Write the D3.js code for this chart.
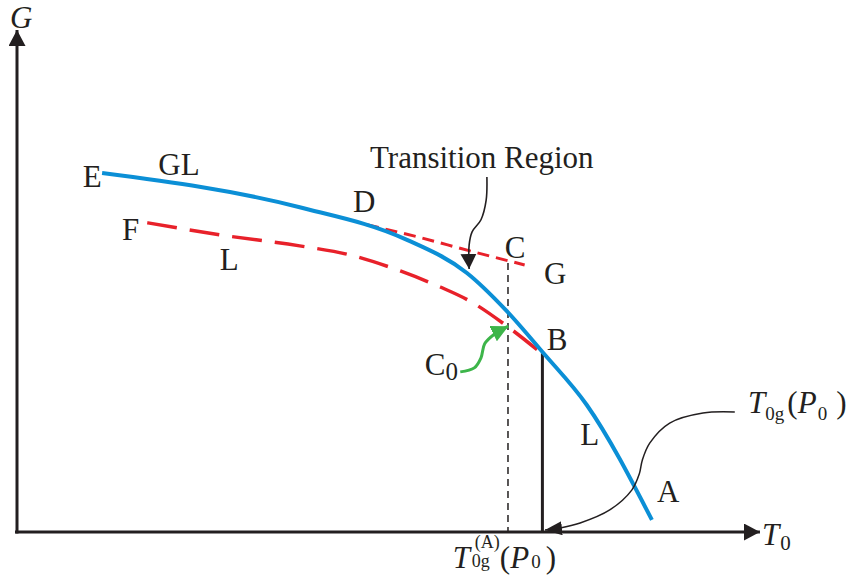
<!DOCTYPE html>
<html>
<head>
<meta charset="utf-8">
<script src="https://cdn.jsdelivr.net/npm/d3@7"></script>
<style>
  body { margin: 0; background: #fff; }
  text { font-family: "Liberation Serif", "Times New Roman", serif; fill: #231f20; }
</style>
</head>
<body>
<div id="chart"></div>
<script>
var width = 849,
    height = 588;

// schematic units: T0 and G both run 0..100 along the axes
var axisEnd = [100.4, 100];

// blue curve E - D - B - A (glass / liquid)
var glCurve = [[11.5, 71.5], [38.2, 64.7], [52.7, 58.2], [60.8, 51.6],
  [66.0, 44.3], [71.1, 35.7], [77.0, 25.3], [85.8, 2.4]];

// red long dashes F - C0 - B (liquid)
var lCurve = [[17.6, 61.6], [27.4, 59.2], [38.2, 57.0], [45.0, 55.2], [51.8, 52.0],
  [57.2, 48.8], [61.2, 46.0], [66.4, 40.8], [70.8, 35.7]];

// red short dashes D - C - G (glass)
var gCurve = [[47.3, 61.2], [54.1, 58.8], [61.2, 56.0], [68.6, 53.2]];

var cDrop = [[66.35, 53.6], [66.35, 0]];
var bDrop = [[71.0, 35.6], [71.0, 0]];

var transArrow = [[63.5, 70.7], [63.4, 66.1], [62.7, 62.2], [61.5, 59.8], [61.1, 57.2], [61.1, 52.4]];
var c0Arrow = [[59.9, 31.9], [61.8, 32.7], [62.7, 34.7], [63.2, 37.5], [64.5, 39.4], [66.4, 41.0]];
var t0gArrow = [[97.0, 23.9], [92.7, 23.7], [88.2, 21.7], [85.5, 17.7], [84.5, 14.3], [84.1, 11.6],
  [83.1, 8.4], [80.1, 4.4], [76.1, 1.8], [73.4, 0.8], [71.35, 0.4]];

var labelText = ["E", "GL", "F", "L", "D", "Transition Region", "C", "G", "B", "L", "A"];
var labelT = [8.9, 19.1, 14.2, 27.4, 45.4, 47.7, 65.9, 71.2, 71.6, 76.1, 86.5];
var labelG = [68.7, 71.1, 58.2, 52.2, 63.7, 72.5, 54.6, 49.4, 36.3, 17.3, 6.0];

var x = d3.scaleLinear().domain([0, 100]).range([17, 757]);
var y = d3.scaleLinear().domain([0, 100]).range([532, 30]);

var svg = d3.select("#chart").append("svg")
    .attr("width", width)
    .attr("height", height);

var defs = svg.append("defs");

function marker(id, len, half, color) {
  defs.append("marker")
      .attr("id", id)
      .attr("markerUnits", "userSpaceOnUse")
      .attr("viewBox", "0 0 " + len + " " + (half * 2))
      .attr("refX", len)
      .attr("refY", half)
      .attr("markerWidth", len)
      .attr("markerHeight", half * 2)
      .attr("orient", "auto")
    .append("path")
      .attr("d", "M0,0L" + len + "," + half + "L0," + (half * 2) + "Z")
      .attr("fill", color);
}
marker("axisHead", 16, 8.5, "#231f20");
marker("transHead", 15, 8, "#231f20");
marker("greenHead", 17, 8.5, "#3db54a");
marker("thinHead", 17, 7, "#231f20");

var smooth = d3.line()
    .x(function(d) { return x(d[0]); })
    .y(function(d) { return y(d[1]); })
    .curve(d3.curveCatmullRom.alpha(0.5));

var mono = d3.line()
    .x(function(d) { return x(d[0]); })
    .y(function(d) { return y(d[1]); })
    .curve(d3.curveMonotoneX);

var straight = d3.line()
    .x(function(d) { return x(d[0]); })
    .y(function(d) { return y(d[1]); });

// axes
svg.append("line")
    .attr("x1", x(0) - 2).attr("y1", y(0))
    .attr("x2", x(axisEnd[0])).attr("y2", y(0))
    .attr("stroke", "#231f20").attr("stroke-width", 3)
    .attr("marker-end", "url(#axisHead)");
svg.append("line")
    .attr("x1", x(0)).attr("y1", y(0) + 1.5)
    .attr("x2", x(0)).attr("y2", y(axisEnd[1]))
    .attr("stroke", "#231f20").attr("stroke-width", 3)
    .attr("marker-end", "url(#axisHead)");

// verticals
svg.append("path")
    .attr("d", straight(cDrop))
    .attr("fill", "none").attr("stroke", "#231f20").attr("stroke-width", 1.5)
    .attr("stroke-dasharray", "7,5");
svg.append("path")
    .attr("d", straight(bDrop))
    .attr("fill", "none").attr("stroke", "#231f20").attr("stroke-width", 3);

// curves
svg.append("path")
    .attr("d", mono(gCurve))
    .attr("fill", "none").attr("stroke", "#e8212a").attr("stroke-width", 3)
    .attr("stroke-dasharray", "12,7");
svg.append("path")
    .attr("d", mono(lCurve))
    .attr("fill", "none").attr("stroke", "#e8212a").attr("stroke-width", 3.5)
    .attr("stroke-dasharray", "30,13");
svg.append("path")
    .attr("d", mono(glCurve))
    .attr("fill", "none").attr("stroke", "#0b8fd6").attr("stroke-width", 4);

// annotation arrows
svg.append("path")
    .attr("d", smooth(transArrow))
    .attr("fill", "none").attr("stroke", "#231f20").attr("stroke-width", 1.6)
    .attr("marker-end", "url(#transHead)");
svg.append("path")
    .attr("d", smooth(c0Arrow))
    .attr("fill", "none").attr("stroke", "#3db54a").attr("stroke-width", 3)
    .attr("marker-end", "url(#greenHead)");
svg.append("path")
    .attr("d", smooth(t0gArrow))
    .attr("fill", "none").attr("stroke", "#231f20").attr("stroke-width", 1.5)
    .attr("marker-end", "url(#thinHead)");

// point and curve labels
svg.selectAll(".lbl")
    .data(labelText)
  .enter().append("text")
    .attr("class", "lbl")
    .attr("x", function(d, i) { return x(labelT[i]); })
    .attr("y", function(d, i) { return y(labelG[i]); })
    .style("font-size", "31px")
    .text(function(d) { return d; });

// C0
var c0 = svg.append("text")
    .attr("x", x(55.1)).attr("y", y(31.3))
    .style("font-size", "31px");
c0.append("tspan").text("C");
c0.append("tspan").attr("dy", 5).style("font-size", "25px").text("0");

// axis titles
svg.append("text")
    .attr("x", x(0) - 7).attr("y", 28)
    .style("font-size", "31px").style("font-style", "italic")
    .text("G");

var t0 = svg.append("text")
    .attr("x", x(axisEnd[0]) + 2).attr("y", y(0) + 13)
    .style("font-size", "31px");
t0.append("tspan").style("font-style", "italic").text("T");
t0.append("tspan").attr("dy", 5).attr("dx", 1).style("font-size", "21px").text("0");

// T0g(P0) annotation
var tg = svg.append("text")
    .attr("x", x(98.8)).attr("y", y(23.7))
    .style("font-size", "31px");
tg.append("tspan").style("font-style", "italic").text("T");
tg.append("tspan").attr("dy", 7).style("font-size", "19px").text("0g");
tg.append("tspan").attr("dy", -7).attr("dx", 3).text("(");
tg.append("tspan").style("font-style", "italic").text("P");
tg.append("tspan").attr("dy", 7).attr("dx", 1).style("font-size", "19px").text("0");
tg.append("tspan").attr("dy", -7).attr("dx", 9).text(")");

// T0g(A)(P0) below the axis
var bx = x(58.9), by = y(0) + 36;
var ta = svg.append("text")
    .attr("x", bx).attr("y", by)
    .style("font-size", "31px");
ta.append("tspan").style("font-style", "italic").text("T");
ta.append("tspan").attr("x", bx + 22).attr("dy", -20).style("font-size", "18px").text("(A)");
ta.append("tspan").attr("x", bx + 19).attr("dy", 19).style("font-size", "18px").text("0g");
ta.append("tspan").attr("x", bx + 47).attr("dy", 1).text("(");
ta.append("tspan").style("font-style", "italic").text("P");
ta.append("tspan").attr("dx", 2).style("font-size", "19px").text("0");
ta.append("tspan").attr("dx", 5).text(")");
</script>
</body>
</html>
